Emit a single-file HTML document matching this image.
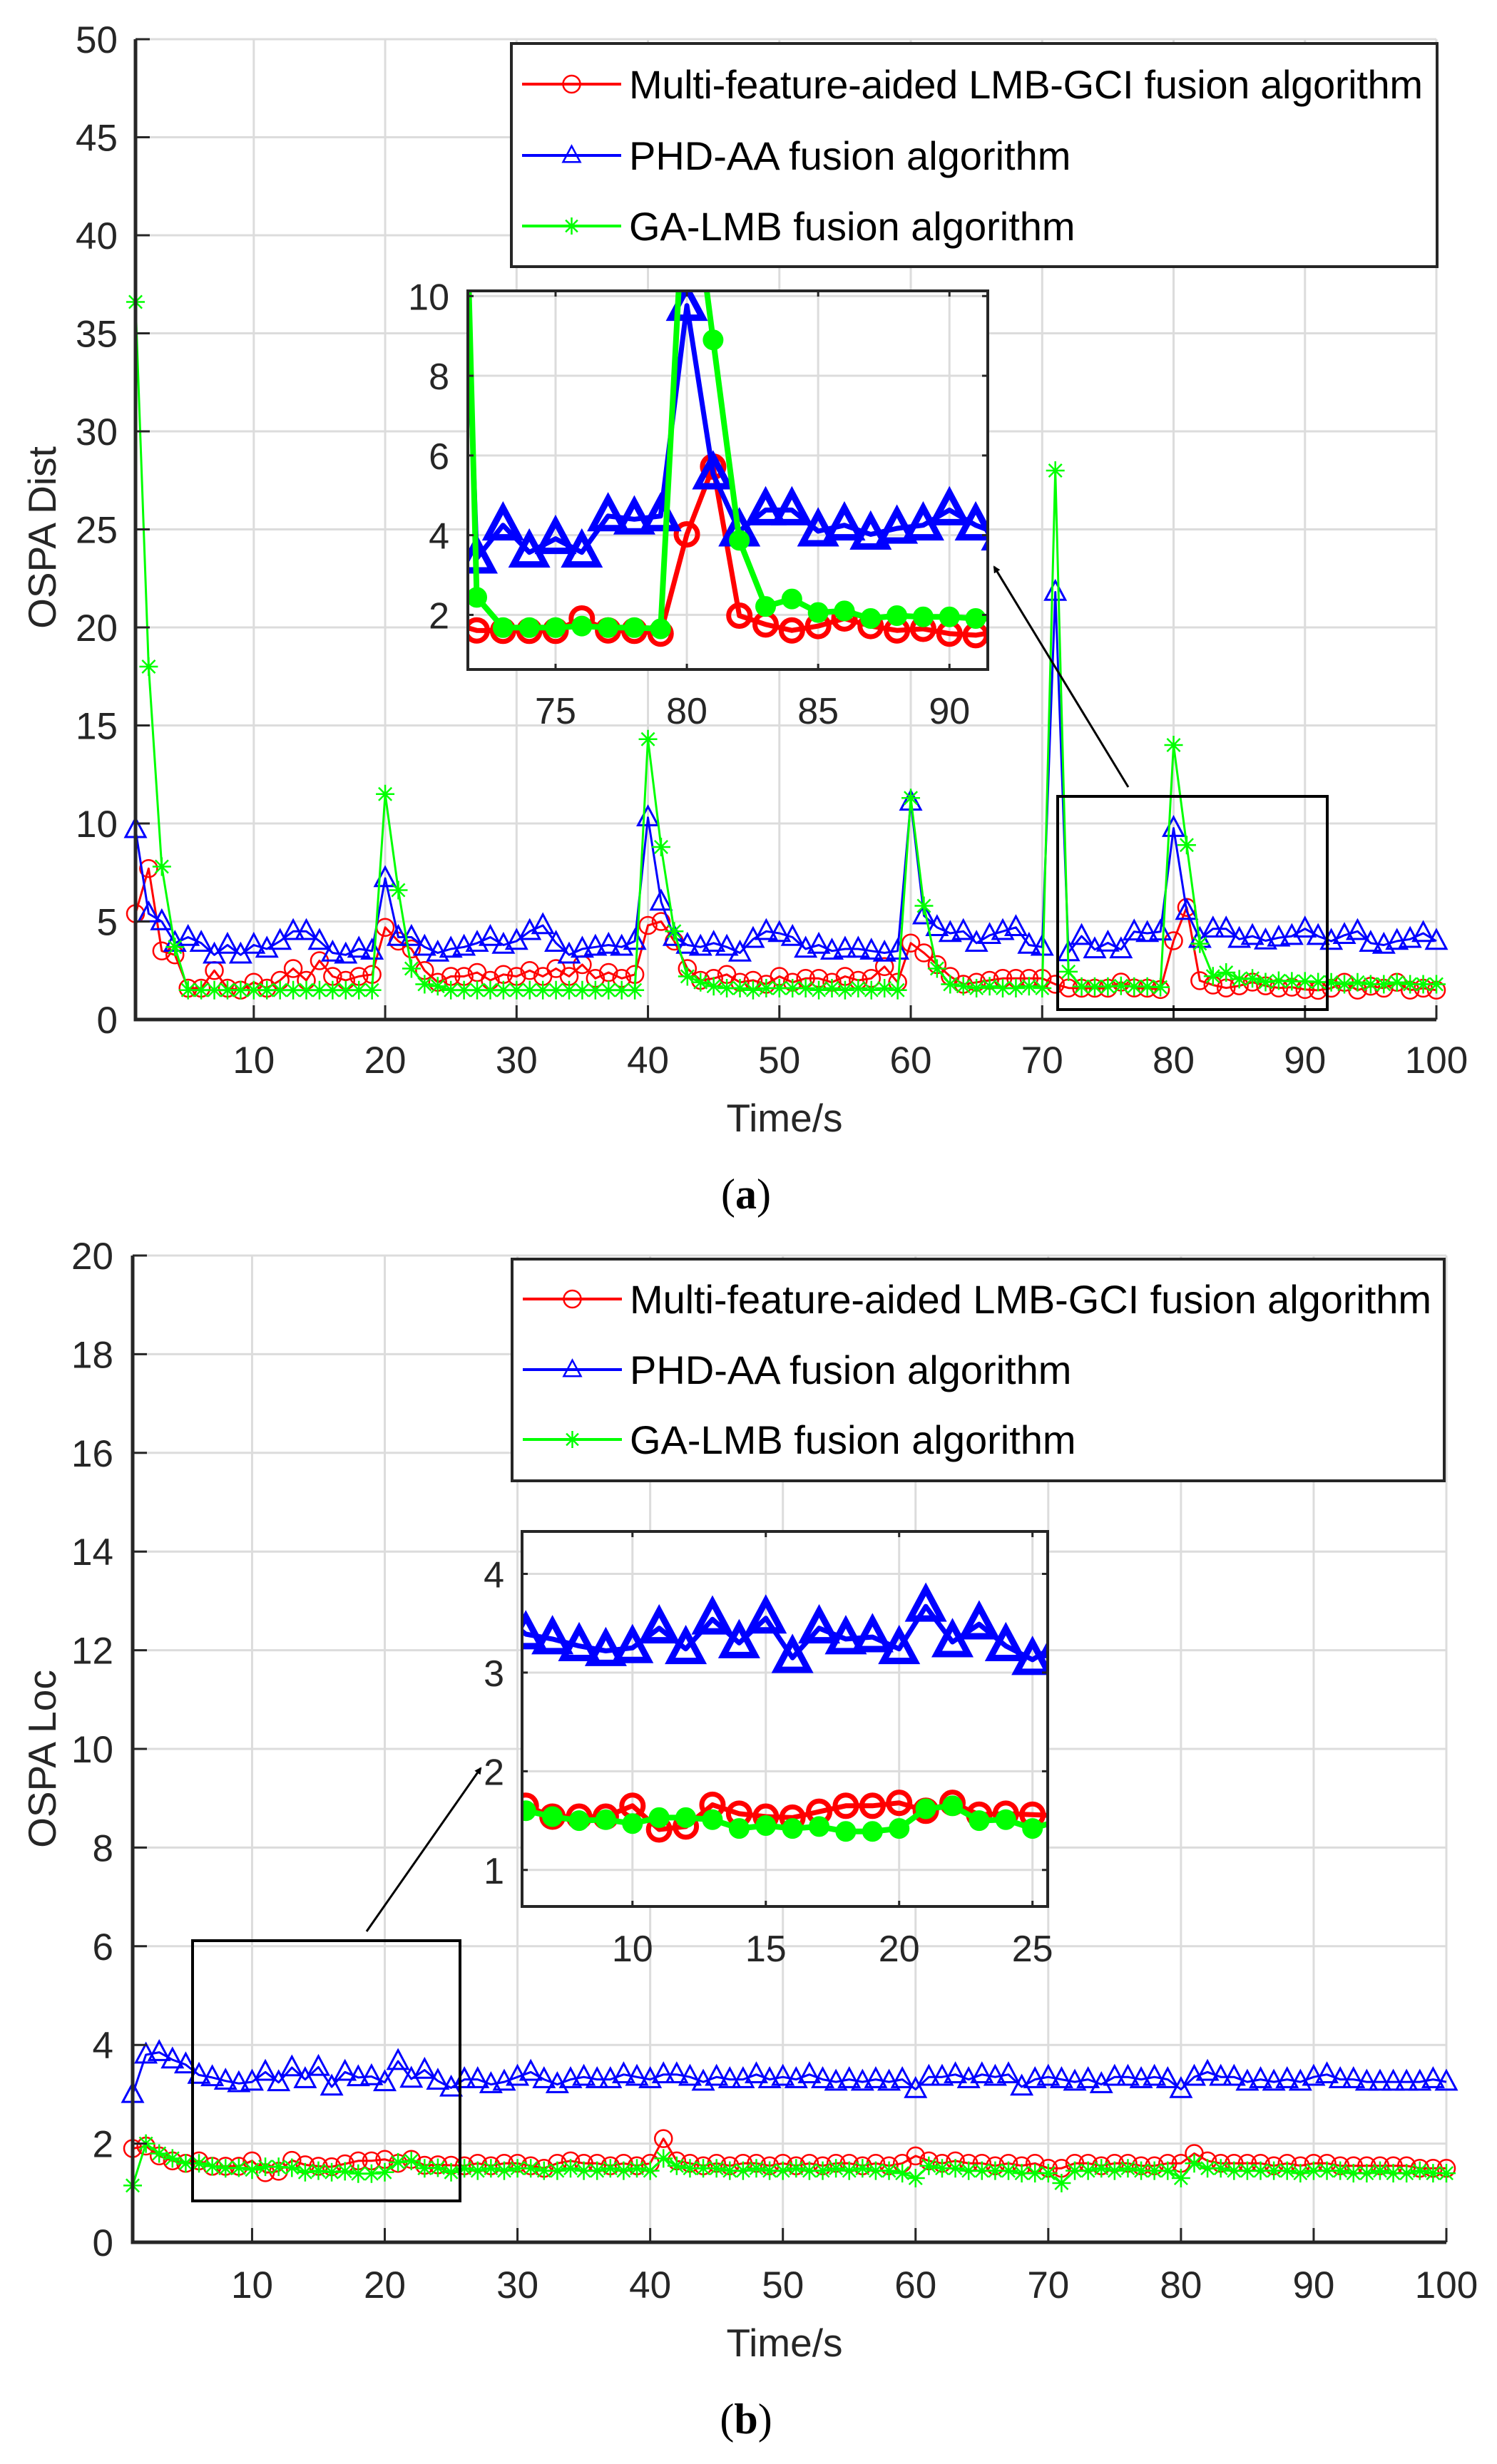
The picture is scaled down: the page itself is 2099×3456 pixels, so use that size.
<!DOCTYPE html>
<html><head><meta charset="utf-8"><style>
html,body{margin:0;padding:0;background:#fff;}
svg{display:block;font-family:"Liberation Sans",Arial,sans-serif;}
</style></head><body>
<svg id="fig" xmlns="http://www.w3.org/2000/svg" width="2099" height="3456" viewBox="0 0 2099 3456">
<defs>
<clipPath id="clipIn1"><rect x="656" y="408" width="729" height="531"/></clipPath>
<clipPath id="clipIn2"><rect x="732" y="2148" width="737" height="526"/></clipPath>
<marker id="ah" markerWidth="10" markerHeight="10" refX="8" refY="5" orient="auto" markerUnits="userSpaceOnUse" viewBox="0 0 10 10"><path d="M0,0 L10,5 L0,10 z" fill="#000"/></marker>
</defs>
<g id="layer"></g>
</svg>
<script>
// ---------- data ----------
const timeSteps = Array.from({length:100},(_,i)=>i+1);
const redA = [5.4,7.7,3.5,3.3,1.6,1.6,2.5,1.6,1.5,1.9, 1.6,2.0,2.6,2.0,3.0,2.2,2.0,2.2,2.3,4.7, 4.0,3.6,2.5,1.9,2.2,2.2,2.4,2.0,2.3,2.2, 2.5,2.2,2.6,2.2,2.8,2.1,2.4,2.1,2.3,4.8, 5.0,4.0,2.6,2.0,2.1,2.3,1.9,2.0,1.8,2.2, 1.9,2.1,2.1,1.9,2.2,2.0,2.1,2.7,1.9,3.9, 3.4,2.8,2.2,1.8,1.9,2.0,2.1,2.1,2.1,2.1,1.8, 1.61,1.6,1.6,1.6,1.91,1.61,1.6,1.53,4.02,5.72,1.98,1.76,1.61,1.72,1.91,1.72,1.61,1.65,1.53,1.49, 1.6,1.9,1.5,1.7,1.6,1.9,1.5,1.6,1.5];
const blueA = [9.7,5.4,5.0,3.9,4.2,3.9,3.3,3.8,3.3,3.8, 3.6,4.0,4.5,4.5,4.0,3.4,3.3,3.6,3.5,7.2, 4.2,4.2,3.7,3.4,3.6,3.7,3.9,4.2,3.8,4.0, 4.5,4.8,3.9,3.3,3.6,3.7,3.8,3.7,4.0,10.3, 6.0,4.2,3.8,3.7,3.9,3.7,3.4,4.1,4.5,4.4, 4.2,3.6,3.8,3.5,3.6,3.6,3.5,3.4,3.5,11.1, 5.3,4.7,4.4,4.5,3.9,4.3,4.5,4.7,3.8,3.7,21.8, 3.42,4.25,3.57,3.91,3.57,4.48,4.40,4.48,9.76,5.53,4.10,4.63,4.63,4.10,4.25,4.02,4.17,4.25,4.63,4.25, 4.0,4.3,4.5,3.9,3.8,4.0,4.1,4.4,4.0];
const greenA = [36.6,18.0,7.8,3.7,1.5,1.5,1.5,1.5,1.5,1.5, 1.5,1.5,1.5,1.5,1.5,1.5,1.5,1.5,1.5,11.5, 6.6,2.6,1.8,1.7,1.5,1.5,1.5,1.5,1.5,1.5, 1.5,1.5,1.5,1.5,1.5,1.5,1.5,1.5,1.5,14.3, 8.8,4.5,2.2,1.9,1.7,1.6,1.6,1.5,1.6,1.6, 1.6,1.6,1.5,1.6,1.5,1.6,1.5,1.6,1.5,11.3, 5.8,2.6,1.8,1.7,1.6,1.7,1.6,1.6,1.7,1.6,28.0, 2.44,1.68,1.68,1.68,1.72,1.68,1.68,1.65,14.0,8.9,3.87,2.21,2.40,2.06,2.10,1.91,1.98,1.95,1.95,1.91, 1.9,1.8,1.9,1.8,1.8,1.9,1.8,1.8,1.8];
const redB = [1.9,1.95,1.75,1.65,1.6, 1.65,1.54,1.54,1.54,1.65,1.41,1.44,1.66,1.57,1.54,1.53,1.59,1.65,1.65,1.68,1.60,1.68,1.56,1.57,1.56, 1.55,1.6,1.55,1.6,1.6, 1.55,1.5,1.6,1.65,1.6, 1.6,1.55,1.6,1.55,1.6, 2.1,1.65,1.6,1.55,1.6, 1.55,1.6,1.6,1.55,1.6, 1.55,1.6,1.55,1.6,1.6, 1.55,1.6,1.55,1.6,1.75, 1.65,1.6,1.65,1.6,1.6, 1.55,1.6,1.55,1.6,1.5, 1.5,1.6,1.6,1.55,1.6, 1.6,1.55,1.55,1.6,1.6, 1.8,1.65,1.6,1.6,1.6, 1.6,1.55,1.6,1.55,1.6, 1.6,1.55,1.55,1.55,1.55, 1.55,1.55,1.5,1.5,1.5];
const blueB = [3.0,3.8,3.85,3.7,3.6, 3.39,3.34,3.27,3.22,3.25,3.45,3.24,3.54,3.30,3.55,3.15,3.45,3.34,3.36,3.24,3.67,3.31,3.49,3.27,3.13, 3.3,3.3,3.2,3.25,3.35,3.45,3.3,3.2,3.3,3.35, 3.3,3.3,3.4,3.35,3.3,3.4,3.4,3.35,3.25,3.35, 3.3,3.3,3.4,3.3,3.35,3.3,3.4,3.3,3.25,3.3, 3.25,3.3,3.25,3.3,3.1,3.35,3.35,3.4,3.3,3.4, 3.35,3.4,3.15,3.3,3.35,3.3,3.25,3.3,3.2,3.35, 3.35,3.3,3.35,3.3,3.1,3.35,3.45,3.35,3.35,3.25, 3.3,3.25,3.3,3.25,3.35,3.4,3.3,3.3,3.25,3.25, 3.25,3.25,3.25,3.3,3.25];
const greenB = [1.15,2.0,1.8,1.7,1.6, 1.60,1.54,1.50,1.51,1.47,1.53,1.53,1.51,1.42,1.45,1.42,1.44,1.39,1.39,1.42,1.62,1.65,1.50,1.51,1.42, 1.5,1.45,1.5,1.45,1.5, 1.5,1.45,1.45,1.5,1.45, 1.45,1.5,1.45,1.5,1.45, 1.7,1.55,1.5,1.5,1.5, 1.45,1.45,1.5,1.45,1.45, 1.5,1.45,1.45,1.5,1.45, 1.5,1.45,1.45,1.4,1.3, 1.55,1.5,1.5,1.45,1.45, 1.45,1.45,1.4,1.4,1.4, 1.2,1.45,1.45,1.5,1.45, 1.5,1.45,1.45,1.45,1.3, 1.6,1.5,1.5,1.45,1.45, 1.45,1.45,1.45,1.4,1.45, 1.45,1.45,1.4,1.4,1.45, 1.4,1.4,1.45,1.4,1.4];
const xTicksMain = [10,20,30,40,50,60,70,80,90,100];
const yTicksA = [0,5,10,15,20,25,30,35,40,45,50];
const yTicksB = [0,2,4,6,8,10,12,14,16,18,20];
const xTicksIn1 = [75,80,85,90];
const yTicksIn1 = [2,4,6,8,10];
const xTicksIn2 = [10,15,20,25];
const yTicksIn2 = [1,2,3,4];
const legendLabels = ["Multi-feature-aided LMB-GCI fusion algorithm","PHD-AA fusion algorithm","GA-LMB fusion algorithm"];

// ---------- helpers ----------
const NS = "http://www.w3.org/2000/svg";
const root = document.getElementById('layer');
function mk(tag, attrs, parent){
  const e = document.createElementNS(NS, tag);
  for (const k in attrs) e.setAttribute(k, attrs[k]);
  (parent||root).appendChild(e);
  return e;
}
function scale(d0,d1,r0,r1){ return v => r0 + (v-d0)*(r1-r0)/(d1-d0); }
const RED='#ff0000', BLUE='#0000ff', GREEN='#00ff00', AX='#262626', GRID='#dcdcdc';

function marker(g, type, x, y, s, color, sw){
  let e;
  if (type==='circle'){
    e = mk('circle',{cx:x,cy:y,r:s,fill:'none',stroke:color,'stroke-width':sw},g);
  } else if (type==='dot'){
    e = mk('circle',{cx:x,cy:y,r:s,fill:color,stroke:color,'stroke-width':1},g);
  } else if (type==='tri'){
    const h = s*1.1;
    e = mk('path',{d:`M${x},${y-h} L${x+s},${y+h*0.7} L${x-s},${y+h*0.7} Z`,fill:'none',stroke:color,'stroke-width':sw,'stroke-linejoin':'miter'},g);
  } else {
    const a = s*0.7;
    e = mk('path',{d:`M${x},${y-s}V${y+s}M${x-s},${y}H${x+s}M${x-a},${y-a}L${x+a},${y+a}M${x-a},${y+a}L${x+a},${y-a}`,fill:'none',stroke:color,'stroke-width':sw},g);
  }
  
  
}

function series(g, xs, ys, X, Y, color, lw, mtype, ms, msw, name){
  const pts = xs.map((x,i)=>X(x).toFixed(1)+','+Y(ys[i]).toFixed(1)).join(' ');
  const pl = mk('polyline',{points:pts,fill:'none',stroke:color,'stroke-width':lw,'stroke-linejoin':'round'},g);
  
  
  xs.forEach((x,i)=>marker(g, mtype, X(x), Y(ys[i]), ms, color, msw));
}

// ---------- main axes ----------
function mainAxes(cfg){
  const g = mk('g',{});
  
  
  const X = scale(1,100,cfg.x0,cfg.x1), Y = scale(cfg.ymin,cfg.ymax,cfg.y0,cfg.y1);
  xTicksMain.forEach(t=>{ const l=mk('line',{x1:X(t),x2:X(t),y1:cfg.y0,y2:cfg.y1,stroke:GRID,'stroke-width':3},g);
      });
  cfg.yTicks.forEach(t=>{ const l=mk('line',{x1:cfg.x0,x2:cfg.x1,y1:Y(t),y2:Y(t),stroke:GRID,'stroke-width':3},g);
      });
  series(g, timeSteps, cfg.red, X, Y, RED, 3, 'circle', 12, 2.5, 'red-series');
  series(g, timeSteps, cfg.blue, X, Y, BLUE, 3, 'tri', 14, 3, 'blue-series');
  series(g, timeSteps, cfg.green, X, Y, GREEN, 3, 'star', 13, 2.5, 'green-series');
  const ax = mk('path',{d:`M${cfg.x0},${cfg.y1}V${cfg.y0}H${cfg.x1}`,fill:'none',stroke:AX,'stroke-width':5},g);
   
  xTicksMain.forEach(t=>{
    mk('line',{x1:X(t),x2:X(t),y1:cfg.y0,y2:cfg.y0-20,stroke:AX,'stroke-width':3},g);
    const tx = mk('text',{x:X(t),y:cfg.xLabY,'font-size':53,fill:AX,'text-anchor':'middle'},g);
    tx.textContent = t;
     
  });
  cfg.yTicks.forEach(t=>{
    mk('line',{x1:cfg.x0,x2:cfg.x0+20,y1:Y(t),y2:Y(t),stroke:AX,'stroke-width':3},g);
    const tx = mk('text',{x:cfg.yLabX,y:Y(t)+19,'font-size':53,fill:AX,'text-anchor':'end'},g);
    tx.textContent = t;
     
  });
  const xt = mk('text',{x:1100,y:cfg.xTitleY,'font-size':55,fill:AX,'text-anchor':'middle'},g);
  xt.textContent = 'Time/s';
   
  const yt = mk('text',{x:0,y:0,'font-size':55,fill:AX,'text-anchor':'middle',transform:`translate(78,${cfg.yTitleY}) rotate(-90)`},g);
  yt.textContent = cfg.ytitle;
   
  const cap = mk('text',{x:1046,y:cfg.capY,'font-size':60,fill:'#000','text-anchor':'middle','font-family':'Liberation Serif, serif'},g);
   
  const t1 = mk('tspan',{},cap); t1.textContent='(';
  const t2 = mk('tspan',{'font-weight':'bold'},cap); t2.textContent=cfg.caption;
  const t3 = mk('tspan',{},cap); t3.textContent=')';
  return {X,Y,g};
}

function legend(cfg){
  const g = mk('g',{});
  
  
  mk('rect',{x:cfg.x,y:cfg.y,width:cfg.w,height:cfg.h,fill:'#fff',stroke:AX,'stroke-width':4},g);
  const cols=[RED,BLUE,GREEN], types=['circle','tri','star'];
  legendLabels.forEach((lab,i)=>{
    const y = cfg.ys[i];
    const e = mk('g',{},g);
    
    
    mk('line',{x1:cfg.lx0,x2:cfg.lx1,y1:y,y2:y,stroke:cols[i],'stroke-width':4},e);
    marker(e, types[i], (cfg.lx0+cfg.lx1)/2, y, 12, cols[i], 2.5);
    const t = mk('text',{x:cfg.tx,y:y+20,'font-size':56,fill:'#000'},e);
    t.textContent = lab;
    if (i===0) t.setAttribute('textLength', cfg.tw);
  });
}

function inset(cfg){
  const g = mk('g',{});
  
  
  mk('rect',{x:cfg.x0,y:cfg.y1,width:cfg.x1-cfg.x0,height:cfg.y0-cfg.y1,fill:'#fff'},g);
  const X = scale(cfg.xmin,cfg.xmax,cfg.x0,cfg.x1), Y = scale(cfg.ymin,cfg.ymax,cfg.y0,cfg.y1);
  cfg.xTicks.forEach(t=>mk('line',{x1:X(t),x2:X(t),y1:cfg.y0,y2:cfg.y1,stroke:GRID,'stroke-width':3},g));
  cfg.yTicks.forEach(t=>mk('line',{x1:cfg.x0,x2:cfg.x1,y1:Y(t),y2:Y(t),stroke:GRID,'stroke-width':3},g));
  const c = mk('g',{'clip-path':`url(#${cfg.clip})`},g);
  const idx = timeSteps.map((t,i)=>i).filter(i=>timeSteps[i]>=Math.floor(cfg.xmin) && timeSteps[i]<=Math.ceil(cfg.xmax));
  const xs = idx.map(i=>timeSteps[i]);
  series(c, xs, idx.map(i=>cfg.red[i]), X, Y, RED, 7, 'circle', 15, 7, 'inset-red-series');
  series(c, xs, idx.map(i=>cfg.blue[i]), X, Y, BLUE, 7, 'tri', 22, 9, 'inset-blue-series');
  series(c, xs, idx.map(i=>cfg.green[i]), X, Y, GREEN, 8, 'dot', 14, 1, 'inset-green-series');
  mk('rect',{x:cfg.x0,y:cfg.y1,width:cfg.x1-cfg.x0,height:cfg.y0-cfg.y1,fill:'none',stroke:AX,'stroke-width':4},g);
  cfg.xTicks.forEach(t=>{
    mk('line',{x1:X(t),x2:X(t),y1:cfg.y0,y2:cfg.y0-8,stroke:AX,'stroke-width':3},g);
    mk('line',{x1:X(t),x2:X(t),y1:cfg.y1,y2:cfg.y1+8,stroke:AX,'stroke-width':3},g);
    const tx = mk('text',{x:X(t),y:cfg.xLabY,'font-size':52,fill:AX,'text-anchor':'middle'},g);
    tx.textContent = t;
     
  });
  cfg.yTicks.forEach(t=>{
    mk('line',{x1:cfg.x0,x2:cfg.x0+8,y1:Y(t),y2:Y(t),stroke:AX,'stroke-width':3},g);
    mk('line',{x1:cfg.x1,x2:cfg.x1-8,y1:Y(t),y2:Y(t),stroke:AX,'stroke-width':3},g);
    const tx = mk('text',{x:cfg.yLabX,y:Y(t)+19,'font-size':52,fill:AX,'text-anchor':'end'},g);
    tx.textContent = t;
     
  });
}

// ---------- chart (a) ----------
mainAxes({name:'chart-a',x0:190,x1:2014,y0:1430,y1:55,ymin:0,ymax:50,yTicks:yTicksA,
  red:redA,blue:blueA,green:greenA,xLabY:1505,yLabX:165,xTitleY:1587,yTitleY:754,ytitle:'OSPA Dist',capY:1695,caption:'a'});
const za = mk('rect',{x:1483,y:1117,width:378,height:299,fill:'none',stroke:'#000','stroke-width':4});
 
const arA = mk('line',{x1:1582,y1:1104,x2:1394,y2:795,stroke:'#000','stroke-width':3,'marker-end':'url(#ah)'});
 
legend({x:717,y:61,w:1298,h:313,ys:[118,218,317],lx0:732,lx1:871,tx:882,tw:1113});
inset({name:'inset-a',x0:656,x1:1385,y0:939,y1:408,xmin:71.66,xmax:91.46,ymin:0.63,ymax:10.13,
  xTicks:xTicksIn1,yTicks:yTicksIn1,red:redA,blue:blueA,green:greenA,clip:'clipIn1',xLabY:1015,yLabX:630});

// ---------- chart (b) ----------
mainAxes({name:'chart-b',x0:186,x1:2028,y0:3145,y1:1761,ymin:0,ymax:20,yTicks:yTicksB,
  red:redB,blue:blueB,green:greenB,xLabY:3223,yLabX:159,xTitleY:3305,yTitleY:2467,ytitle:'OSPA Loc',capY:3413,caption:'b'});
const zb = mk('rect',{x:270,y:2722,width:375,height:365,fill:'none',stroke:'#000','stroke-width':4});
 
const arB = mk('line',{x1:514,y1:2709,x2:674,y2:2480,stroke:'#000','stroke-width':3,'marker-end':'url(#ah)'});
 
legend({x:718,y:1766,w:1307,h:311,ys:[1822,1921,2019],lx0:733,lx1:872,tx:883,tw:1124});
inset({name:'inset-b',x0:732,x1:1469,y0:2674,y1:2148,xmin:5.86,xmax:25.57,ymin:0.63,ymax:4.43,
  xTicks:xTicksIn2,yTicks:yTicksIn2,red:redB,blue:blueB,green:greenB,clip:'clipIn2',xLabY:2751,yLabX:707});
</script>
</body></html>
